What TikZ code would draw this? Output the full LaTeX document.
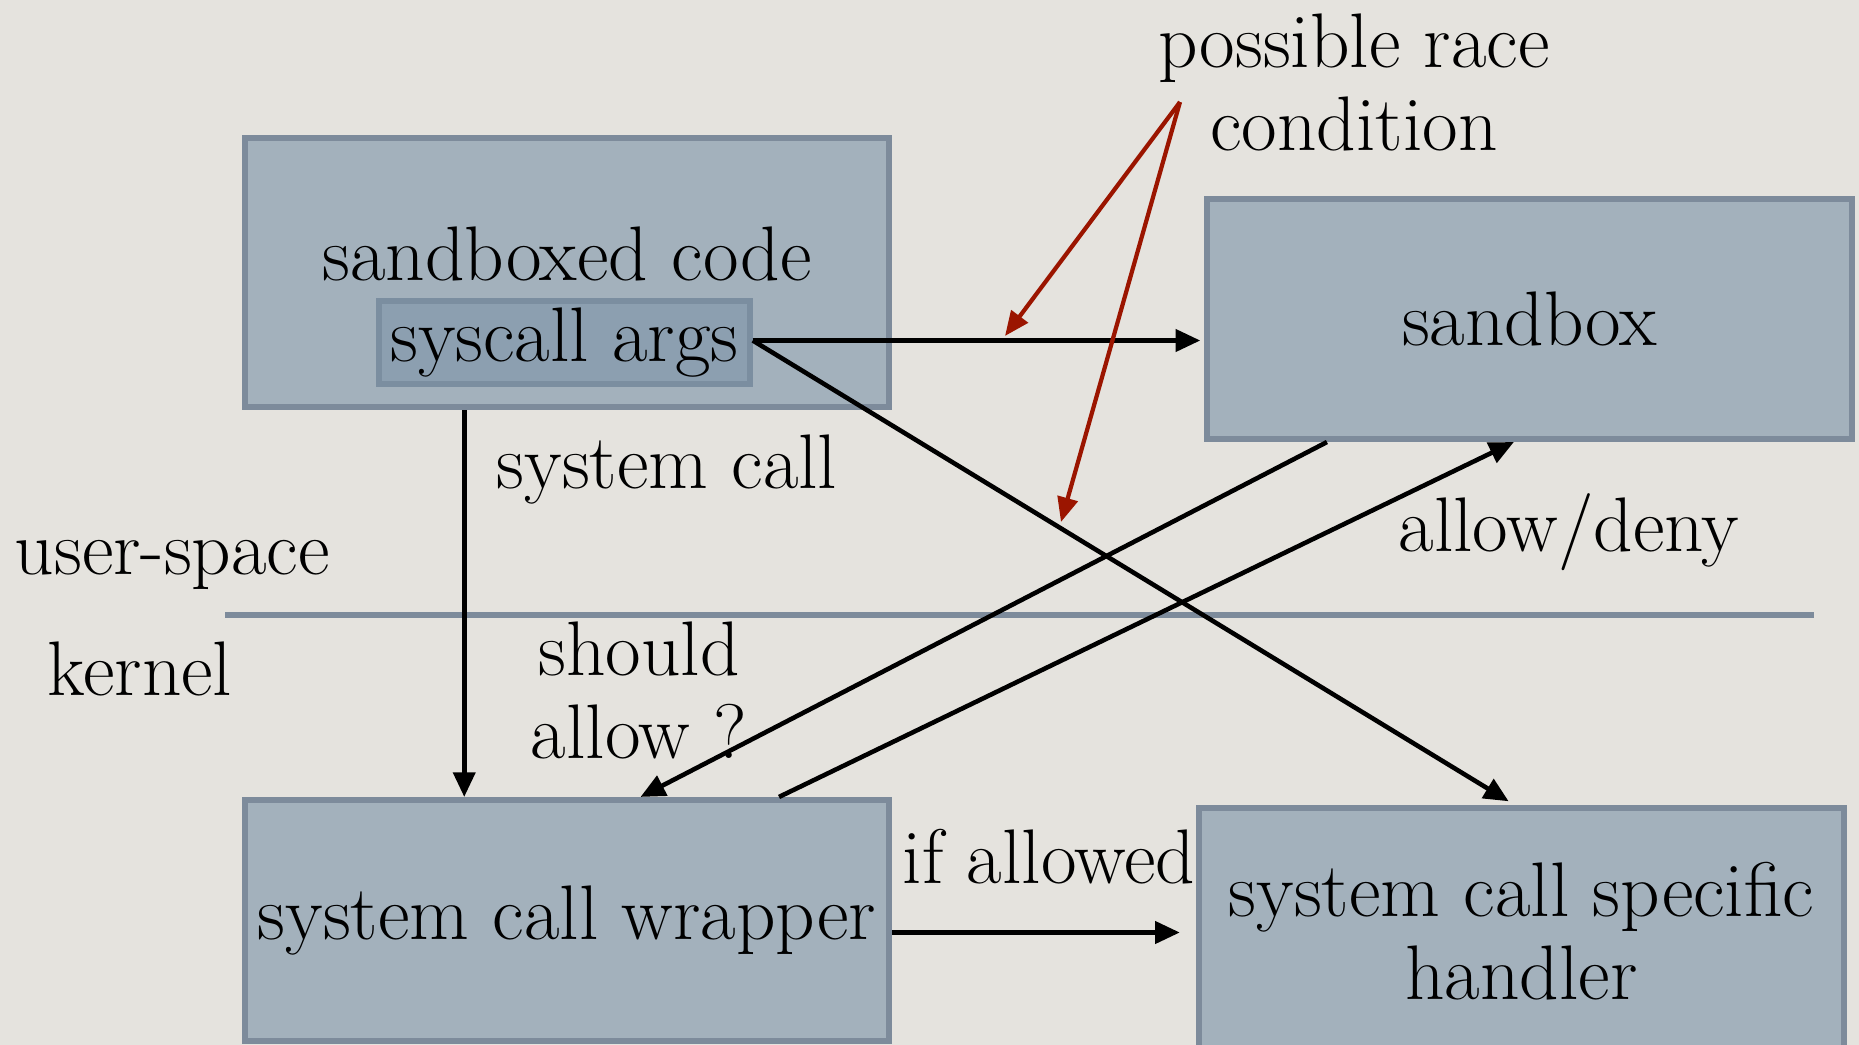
\documentclass[tikz,border=0pt]{standalone}
\usetikzlibrary{arrows.meta,calc}
\definecolor{bg}{HTML}{E5E3DE}
\definecolor{boxfill}{HTML}{A3B1BC}
\definecolor{boxedge}{HTML}{7D8B9B}
\definecolor{infill}{HTML}{8C9FB0}
\definecolor{inedge}{HTML}{7B8EA0}
\definecolor{racered}{HTML}{9B1500}
\begin{document}
\begin{tikzpicture}[x=0.01cm,y=-0.01cm,
  txt/.style={font=\fontsize{22}{23.6}\selectfont, inner sep=0pt},
  box/.style={txt, draw=boxedge, fill=boxfill, line width=1.7pt},
  inbox/.style={txt, draw=inedge, fill=infill, line width=1.5pt},
  arr/.style={line width=1.3pt, -{Triangle[length=7pt,width=6.2pt]}},
  rarr/.style={draw=racered, line width=1.2pt, -{Triangle[length=7pt,width=5.8pt]}}]
\useasboundingbox (0,0) rectangle (1859,1045);
\clip (0,0) rectangle (1859,1045);
\fill[bg] (0,0) rectangle (1859,1045);
% separator
\draw[boxedge, line width=1.6pt] (225,615) -- (1814,615);
% boxes
\node[box, minimum width=6.44cm, minimum height=2.69cm] (sc) at (567,272.5) {};
\node[txt, anchor=base] (sctext) at (567,280) {sandboxed code};
\node[inbox, minimum width=3.71cm, minimum height=0.83cm] (args) at (564.5,342.5) {syscall args};
\node[box, minimum width=6.45cm, minimum height=2.40cm] (sb) at (1529.5,319) {sandbox};
\node[box, minimum width=6.44cm, minimum height=2.41cm] (wr) at (567,920.5) {system call wrapper};
\node[box, minimum width=6.45cm, minimum height=2.45cm, align=center] (hd) at (1521.5,931) {system call specific\\handler};
% labels
\node[txt, anchor=base west] (lsys) at (496,488) {system call};
\node[txt, anchor=base west] (luser) at (14,574) {user-space};
\node[txt, anchor=base west] (lkern) at (47,695) {kernel};
\node[txt, align=center] (lshould) at (639,690) {should\\allow ?};
\node[txt, anchor=base] (lad) at (1569,551) {allow/deny};
\node[txt, anchor=base] (lif) at (1049,883) {if allowed};
\node[txt, align=center] (lrace) at (1354,82) {possible race\\condition};
% connectors
\coordinate (ao) at ($(args.east)+(0,-2)$);
\draw[arr, shorten >=1pt] (ao) -- (ao -| sb.west);
\draw[arr, shorten >=0.08cm] (ao) -- ([xshift=-0.06cm]hd.north);
\draw[arr] ($(sc.south west)!0.342!(sc.south east)$) -- ($(wr.north west)!0.342!(wr.north east)$);
\draw[arr] ($(sb.south west)!0.189!(sb.south east)$) -- ($(wr.north west)!0.613!(wr.north east)$);
\draw[arr] ($(wr.north west)!0.826!(wr.north east)$) -- ($(sb.south west)!0.476!(sb.south east)$);
\coordinate (wo) at ($(wr.east)+(0,12)$);
\draw[arr, shorten >=0.16cm] (wo) -- (wo -| hd.west);
% race condition pointers
\coordinate (race) at (1180,102);
\coordinate (r1) at (1005,336);
\coordinate (r2) at (1061,522);
\draw[rarr] (race) -- (r1);
\draw[rarr] (race) -- (r2);
\end{tikzpicture}
\end{document}
